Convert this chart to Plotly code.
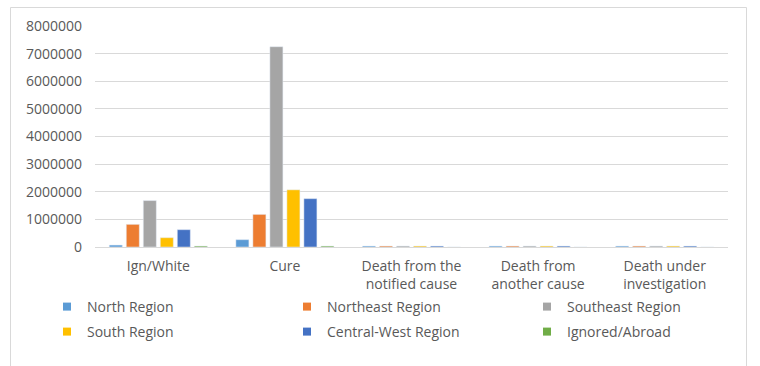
import plotly.graph_objects as go

categories = ["Ign/White", "Cure", "Death from the<br>notified cause", "Death from<br>another cause", "Death under<br>investigation"]
series_names = ["North Region", "Northeast Region", "Southeast Region", "South Region", "Central-West Region", "Ignored/Abroad"]
north = [70000, 265000, 35000, 35000, 35000]
northeast = [820000, 1180000, 35000, 35000, 35000]
southeast = [1680000, 7250000, 35000, 35000, 35000]
south = [337000, 2070000, 35000, 35000, 35000]
central_west = [627000, 1750000, 35000, 35000, 35000]
ignored = [35000, 35000, 0, 0, 0]
y_ticks = [0, 1000000, 2000000, 3000000, 4000000, 5000000, 6000000, 7000000, 8000000]

series_values = [north, northeast, southeast, south, central_west, ignored]
colors = ["#5B9BD5", "#ED7D31", "#A5A5A5", "#FFC000", "#4472C4", "#70AD47"]

W, H = 760, 366
L, R, T, B = 95, 32, 26, 119
PW, PH = W - L - R, H - T - B

def px_x(px):
    return (px - L) / PW

def px_y(py):
    return (H - B - py) / PH

FONT = "Open Sans"
TXT = "#595959"

fig = go.Figure()
for name, vals, col in zip(series_names, series_values, colors):
    fig.add_trace(go.Bar(x=categories, y=vals, name=name, marker_color=col,
                         showlegend=False, hoverinfo="x+y+name"))

# legend entries (one legend each, laid out in a 3x2 grid like the original)
text_x = [86, 326, 566, 86, 326, 566]
row_y = [307, 307, 307, 332, 332, 332]
for i, (name, col) in enumerate(zip(series_names, colors)):
    lg = "legend" if i == 0 else f"legend{i+1}"
    fig.add_trace(go.Scatter(x=[None], y=[None], mode="markers", name=name,
                             marker=dict(symbol="square", size=8, color=col),
                             legend=lg, showlegend=True))

legend_common = dict(font=dict(family=FONT, size=14, color=TXT), bgcolor="rgba(0,0,0,0)",
                     xanchor="left", yanchor="middle", borderwidth=0, orientation="v")
layout_legends = {}
for i in range(6):
    key = "legend" if i == 0 else f"legend{i+1}"
    layout_legends[key] = dict(legend_common, x=px_x(text_x[i] - 39), y=px_y(row_y[i]))

fig.update_layout(
    width=W, height=H,
    margin=dict(l=L, r=R, t=T, b=B, autoexpand=False),
    paper_bgcolor="white", plot_bgcolor="white",
    barmode="group", bargap=0.194, bargroupgap=0.235,
    font=dict(family=FONT, size=14, color=TXT),
    **layout_legends,
)
fig.update_xaxes(showgrid=False, showline=True, linecolor="#D9D9D9", linewidth=1,
                 ticks="", ticklabelstandoff=6,
                 tickfont=dict(family=FONT, size=14, color=TXT), fixedrange=True)
fig.update_yaxes(range=[0, 8000000], tickvals=y_ticks, ticktext=[str(v) for v in y_ticks],
                 showgrid=True, gridcolor="#D9D9D9", gridwidth=1, zeroline=False,
                 showline=False, ticks="", ticklabelstandoff=12,
                 tickfont=dict(family=FONT, size=14, color=TXT), fixedrange=True)

fig.add_shape(type="rect", xref="paper", yref="paper",
              x0=px_x(10.5), x1=px_x(746.5), y0=px_y(380), y1=px_y(7.5),
              line=dict(color="#D9D9D9", width=1), fillcolor="rgba(0,0,0,0)", layer="below")

fig.write_html("out.html", config={"displayModeBar": False},
               post_script="document.body.style.margin='0';document.body.style.overflow='hidden';")
